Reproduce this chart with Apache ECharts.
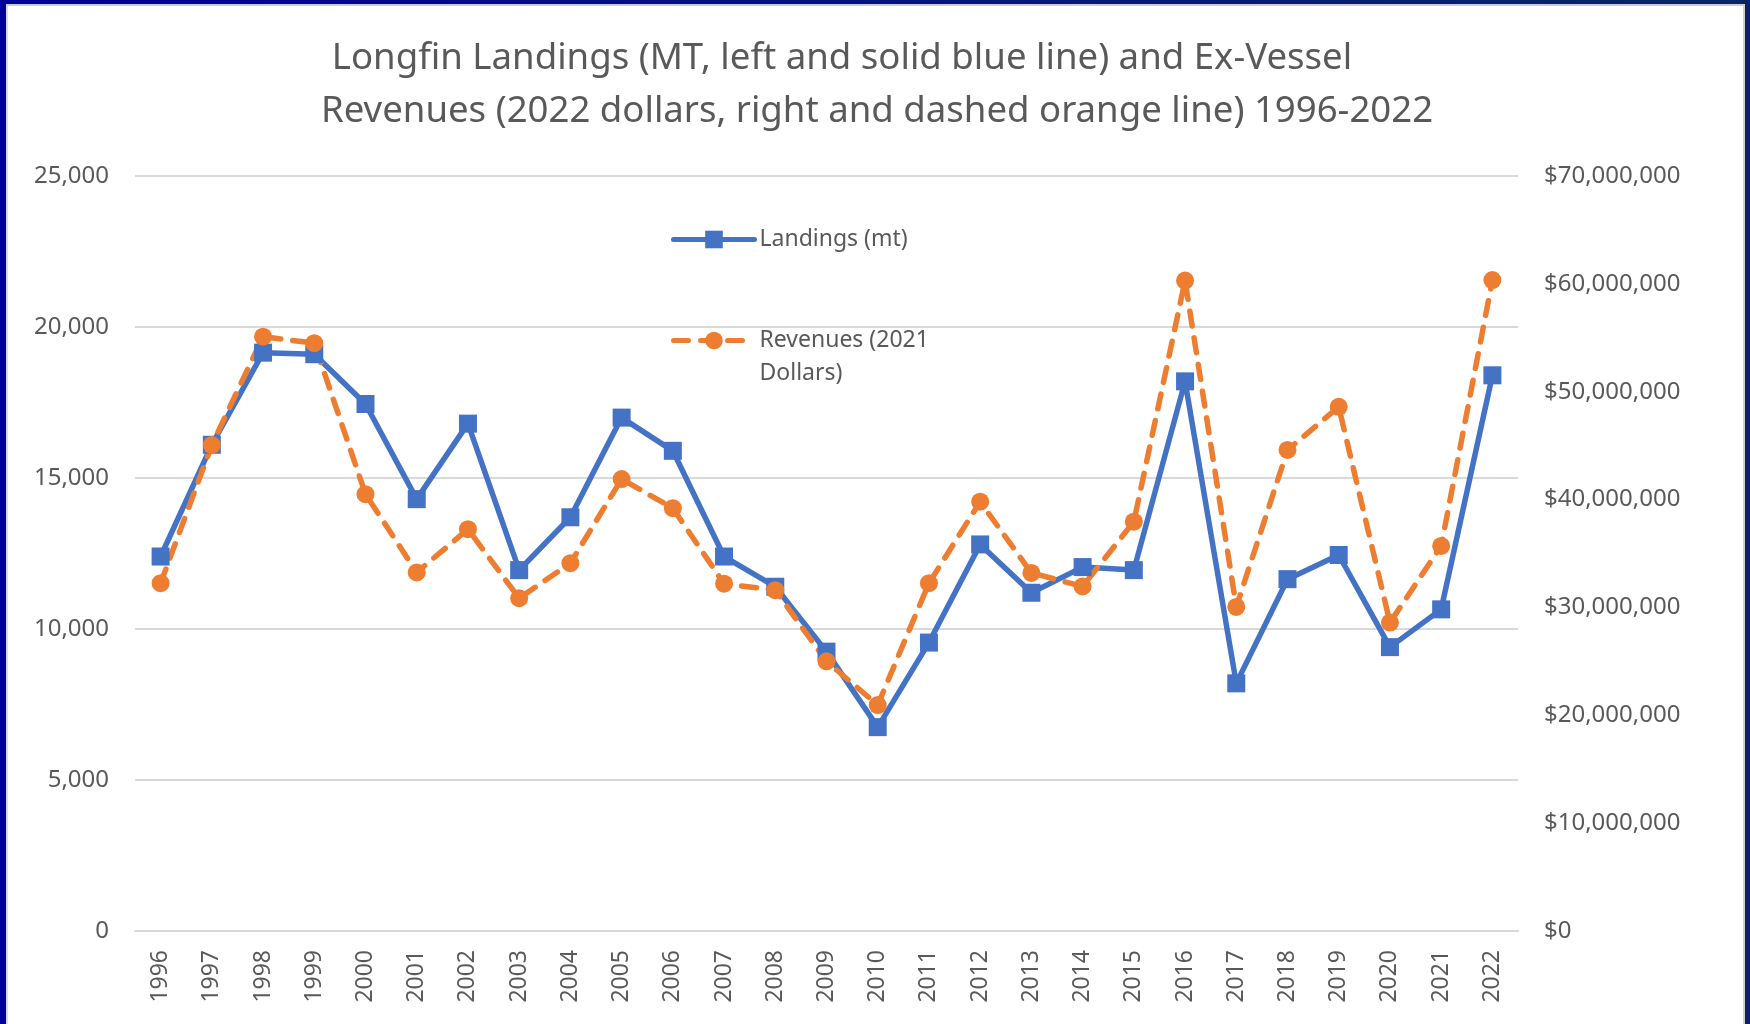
<!DOCTYPE html>
<html>
<head>
<meta charset="utf-8">
<title>Longfin Landings</title>
<script src="https://cdn.jsdelivr.net/npm/echarts@6/dist/echarts.min.js"></script>
<style>
  html, body { margin: 0; padding: 0; background: #fff; }
  #main { position: absolute; left: 0; top: 0; width: 1750px; height: 1024px; }
  .fr { position: absolute; pointer-events: none; }
</style>
</head>
<body>
<div id="main"></div>
<!-- window frame like the slide border -->
<div class="fr" style="left:0;top:0;width:1750px;height:4px;background:linear-gradient(to right,#000099,#0b2466);"></div>
<div class="fr" style="left:6px;top:4px;width:1737px;height:2px;background:#c9cbd9;"></div>
<div class="fr" style="left:0;top:0;width:6px;height:1024px;background:#000099;"></div>
<div class="fr" style="left:6px;top:6px;width:2px;height:1018px;background:#dcdcdc;"></div>
<div class="fr" style="left:1743px;top:4px;width:2px;height:1020px;background:#cfcfcf;"></div>
<div class="fr" style="left:1745px;top:0;width:5px;height:1024px;background:#0b2366;"></div>
<script>
var years = ['1996','1997','1998','1999','2000','2001','2002','2003','2004','2005','2006','2007','2008',
    '2009','2010','2011','2012','2013','2014','2015','2016','2017','2018','2019','2020','2021','2022'];

// landings, metric tons (left axis)
var landings = [12400, 16100, 19150, 19100, 17450, 14300, 16800, 11950, 13700, 17000, 15900, 12400, 11400,
    9250, 6750, 9550, 12800, 11200, 12050, 11950, 18200, 8200, 11650, 12450, 9400, 10650, 18400];

// ex-vessel revenues, dollars (right axis)
var revenues = [32250000, 45050000, 55100000, 54500000, 40500000, 33250000, 37250000, 30850000, 34100000,
    41900000, 39200000, 32200000, 31600000, 25000000, 20950000, 32250000, 39800000, 33200000, 31950000,
    37950000, 60300000, 30050000, 44600000, 48600000, 28600000, 35700000, 60350000];

var leftTicks = { min: 0, max: 25000, interval: 5000 };
var rightTicks = { min: 0, max: 70000000, interval: 10000000 };

var titleLine1 = 'Longfin Landings (MT, left and solid blue line) and Ex-Vessel';
var titleLine2 = 'Revenues (2022 dollars, right and dashed orange line) 1996-2022';

var grey = '#595959';
var fontName = 'Noto Sans';

var myChart = echarts.init(document.getElementById('main'), null, { renderer: 'canvas' });

var option = {
    animation: false,
    backgroundColor: 'transparent',
    title: [{
        text: titleLine1,
        left: 837,
        top: 35,
        textAlign: 'center',
        textStyle: { color: grey, fontFamily: fontName, fontSize: 36.6, fontWeight: 'normal' }
    }, {
        text: titleLine2,
        left: 872,
        top: 88,
        textAlign: 'center',
        textStyle: { color: grey, fontFamily: fontName, fontSize: 36.6, fontWeight: 'normal' }
    }],
    legend: [{
        data: ['Landings (mt)'],
        left: 671,
        top: 223,
        padding: 0,
        itemWidth: 81,
        itemHeight: 22,
        lineStyle: { width: 5 },
        textStyle: { color: grey, fontFamily: fontName, fontSize: 23, lineHeight: 33 }
    }, {
        data: ['Revenues (2021 Dollars)'],
        left: 671,
        top: 291,
        padding: 0,
        itemWidth: 81,
        itemHeight: 22,
        lineStyle: { width: 5 },
        // empty first line keeps "Revenues (2021" level with the icon
        formatter: function (name) { return '\n' + name.replace(' Dollars', '\nDollars'); },
        textStyle: { color: grey, fontFamily: fontName, fontSize: 23, lineHeight: 33 }
    }],
    grid: {
        left: 135,
        right: 232,
        top: 176,
        bottom: 93,
        containLabel: false,
        outerBoundsMode: 'none'
    },
    xAxis: {
        type: 'category',
        data: years,
        boundaryGap: true,
        axisLine: { show: true, lineStyle: { color: '#d9d9d9', width: 2 } },
        axisTick: { show: false },
        axisLabel: {
            rotate: 90,
            margin: 19,
            interval: 0,
            color: grey,
            fontFamily: fontName,
            fontSize: 23
        }
    },
    yAxis: [{
        type: 'value',
        min: leftTicks.min,
        max: leftTicks.max,
        interval: leftTicks.interval,
        axisLine: { show: false },
        axisTick: { show: false },
        splitLine: { show: true, lineStyle: { color: '#d9d9d9', width: 2 } },
        axisLabel: {
            margin: 26,
            color: grey,
            fontFamily: fontName,
            fontSize: 24,
            formatter: function (v) { return v.toLocaleString('en-US'); }
        }
    }, {
        type: 'value',
        position: 'right',
        min: rightTicks.min,
        max: rightTicks.max,
        interval: rightTicks.interval,
        axisLine: { show: false },
        axisTick: { show: false },
        splitLine: { show: false },
        axisLabel: {
            margin: 26,
            color: grey,
            fontFamily: fontName,
            fontSize: 24,
            formatter: function (v) { return '$' + v.toLocaleString('en-US'); }
        }
    }],
    series: [{
        name: 'Landings (mt)',
        type: 'line',
        yAxisIndex: 0,
        data: landings,
        symbol: 'rect',
        symbolSize: 18,
        itemStyle: { color: '#4472c4' },
        lineStyle: { color: '#4472c4', width: 5.5, join: 'round', cap: 'round' }
    }, {
        name: 'Revenues (2021 Dollars)',
        type: 'line',
        yAxisIndex: 1,
        data: revenues,
        symbol: 'circle',
        symbolSize: 18,
        itemStyle: { color: '#ed7d31' },
        lineStyle: { color: '#ed7d31', width: 5.5, type: [15, 12], join: 'round', cap: 'round' }
    }]
};

myChart.setOption(option);
</script>
</body>
</html>
